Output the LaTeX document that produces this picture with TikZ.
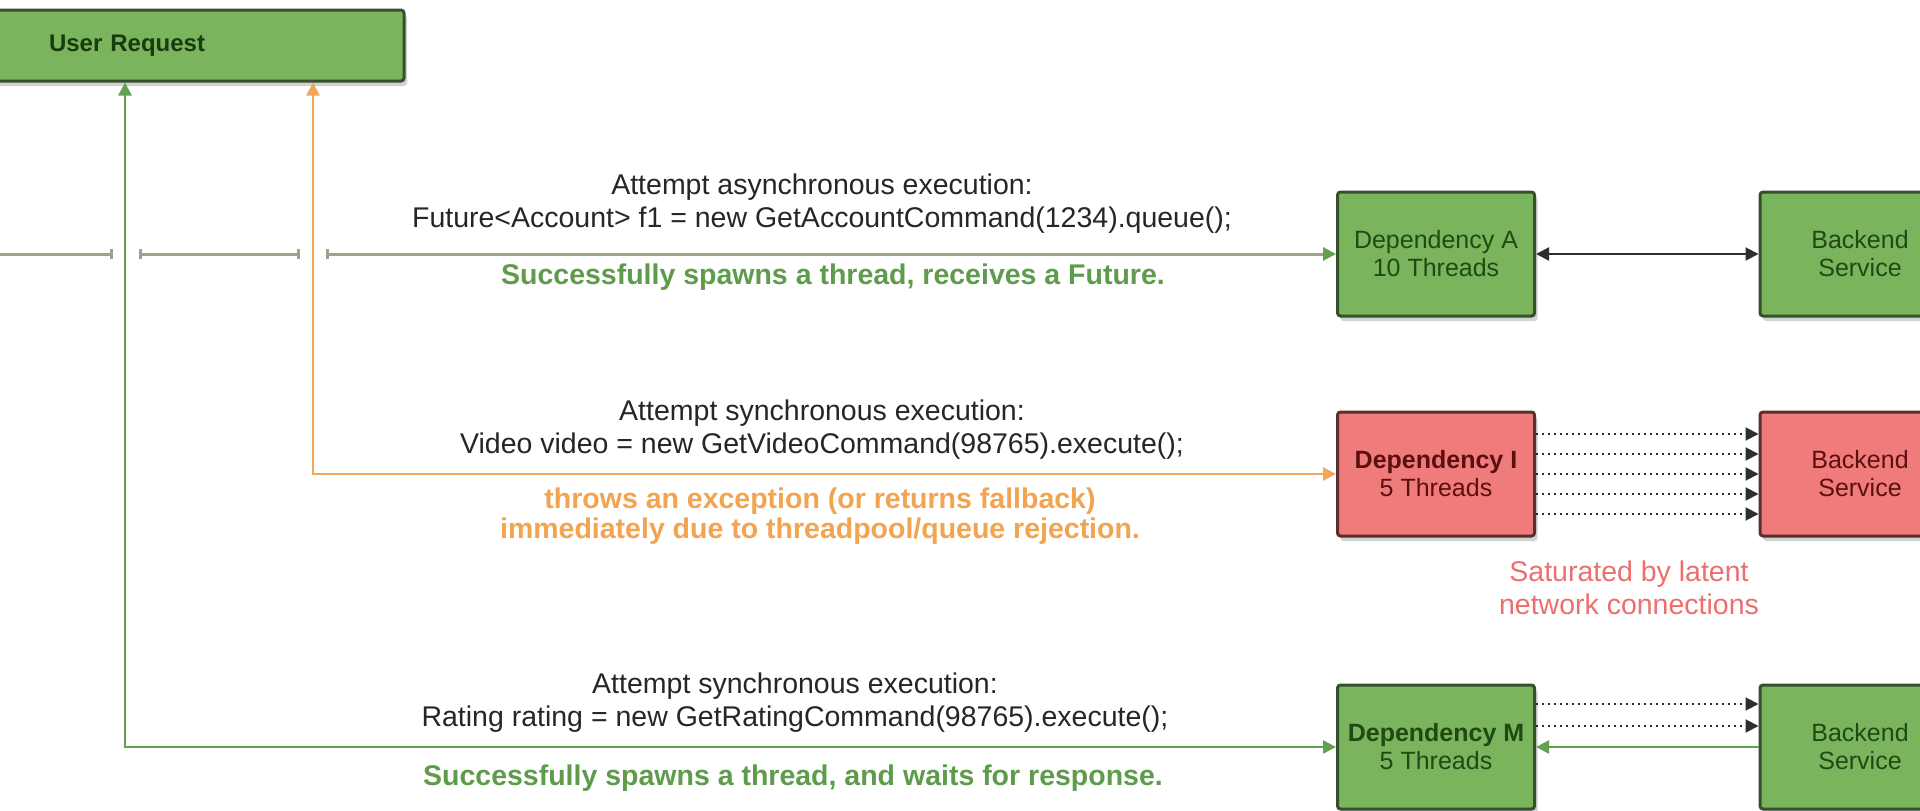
\documentclass[tikz,border=0pt]{standalone}
\usepackage{fontspec}
\setmainfont{Liberation Sans}
\usetikzlibrary{arrows.meta,shadows}

\definecolor{boxgreen}{HTML}{7AB45C}
\definecolor{boxgreenline}{HTML}{34502C}
\definecolor{boxred}{HTML}{F07B7B}
\definecolor{boxredline}{HTML}{5A2E2E}
\definecolor{txtgreen}{HTML}{1F4A14}
\definecolor{txtred}{HTML}{5C0F0F}
\definecolor{flowgreen}{HTML}{64A052}
\definecolor{flowgrey}{HTML}{97A58C}
\definecolor{floworange}{HTML}{F2A55C}
\definecolor{labelgreen}{HTML}{5E9C4C}
\definecolor{labelorange}{HTML}{F2A450}
\definecolor{labelred}{HTML}{EC6F6F}
\definecolor{linkdark}{HTML}{2E2E2E}

\tikzset{
  flowtip/.tip={Triangle[length=13pt,width=13pt]},
  jumpbar/.tip={Bar[width=10pt,line width=3pt]}
}

\begin{document}
\begin{tikzpicture}[x=1pt,y=-1pt,
  box/.style={draw=boxgreenline, line width=3pt, fill=boxgreen, rounded corners=3pt,
    minimum width=197pt, minimum height=124pt, align=center, text=txtgreen,
    font=\fontsize{25}{28}\selectfont,
    drop shadow={shadow xshift=3pt, shadow yshift=-5pt, opacity=0.35}},
  redbox/.style={box, draw=boxredline, fill=boxred, text=txtred},
  backend/.style={minimum width=200pt},
  lbl/.style={align=center, text=black!85, font=\fontsize{28.5}{33}\selectfont},
  okgreen/.style={align=center, text=labelgreen, font=\fontsize{28.5}{30}\selectfont\bfseries},
  warnorange/.style={align=center, text=labelorange, font=\fontsize{28.5}{30}\selectfont\bfseries},
  satlink/.style={linkdark, line width=2pt, dash pattern=on 2pt off 4pt, -{flowtip}}
]
\useasboundingbox (0,0) rectangle (1920,811);
\fill[white] (0,0) rectangle (1920,811);

% entry box
\node[box, minimum width=414pt, minimum height=71pt, text width=296pt, inner xsep=59pt,
      align=left, font=\fontsize{24}{28}\selectfont\bfseries, text=txtgreen!80!black]
  (ur) at (197,45.5) {User Request};

% dependency pools
\node[box] (depA) at (1436,254) {Dependency A\\10 Threads};
\node[redbox] (depI) at (1436,474) {\textbf{Dependency I}\\5 Threads};
\node[box] (depM) at (1436,747) {\textbf{Dependency M}\\5 Threads};

% backend services
\node[box, backend] (beA) at (1860,254) {Backend\\Service};
\node[redbox, backend] (beI) at (1860,474) {Backend\\Service};
\node[box, backend] (beM) at (1860,747) {Backend\\Service};

% guide coordinates for the two vertical runs and the incoming line
\coordinate (gx) at (125,0);
\coordinate (ox) at (313,0);
\coordinate (in0) at (0,254);
\coordinate (j1a) at (113,254);
\coordinate (j1b) at (139,254);
\coordinate (j2a) at (300,254);
\coordinate (j2b) at (326,254);

% asynchronous call line with jumps over the verticals
\draw[flowgrey, line width=3pt, -{jumpbar}] (in0) -- (j1a);
\draw[flowgrey, line width=3pt, {jumpbar}-{jumpbar}] (j1b) -- (j2a);
\draw[flowgrey, line width=3pt, {jumpbar}-{Triangle[length=13pt,width=13pt,fill=flowgreen,color=flowgreen]}] (j2b) -- (depA.west);

% synchronous calls
\draw[floworange, line width=2.5pt, {flowtip}-{flowtip}] (ur.south -| ox) |- (depI.west);
\draw[flowgreen, line width=2.5pt, {flowtip}-{flowtip}] (ur.south -| gx) |- (depM.west);

% dependency to backend links
\draw[linkdark, line width=2pt, {flowtip}-{flowtip}] (depA.east) -- (beA.west);
\foreach \dy in {-40,-20,0,20,40}
  \draw[satlink] ([yshift=\dy pt]depI.east) -- ([yshift=\dy pt]beI.west);
\foreach \dy in {43,21}
  \draw[satlink] ([yshift=\dy pt]depM.east) -- ([yshift=\dy pt]beM.west);
\draw[flowgreen, line width=2.5pt, {flowtip}-] (depM.east) -- (beM.west);

% call descriptions
\node[lbl] (callA) at (822,203.5) {Attempt asynchronous execution:\\Future<Account> f1 = new GetAccountCommand(1234).queue();};
\node[okgreen] (resA) at (833,277) {Successfully spawns a thread, receives a Future.};

\node[lbl] (callI) at (822,429.5) {Attempt synchronous execution:\\Video video = new GetVideoCommand(98765).execute();};
\node[warnorange] (resI) at (820,516.5) {throws an exception (or returns fallback)\\immediately due to threadpool/queue rejection.};

\node[lbl] (callM) at (795,703) {Attempt synchronous execution:\\Rating rating = new GetRatingCommand(98765).execute();};
\node[okgreen] (resM) at (793,778) {Successfully spawns a thread, and waits for response.};

\node[align=center, text=labelred, font=\fontsize{28.5}{33}\selectfont] (sat) at (1629,588)
  {Saturated by latent\\network connections};
\end{tikzpicture}
\end{document}
